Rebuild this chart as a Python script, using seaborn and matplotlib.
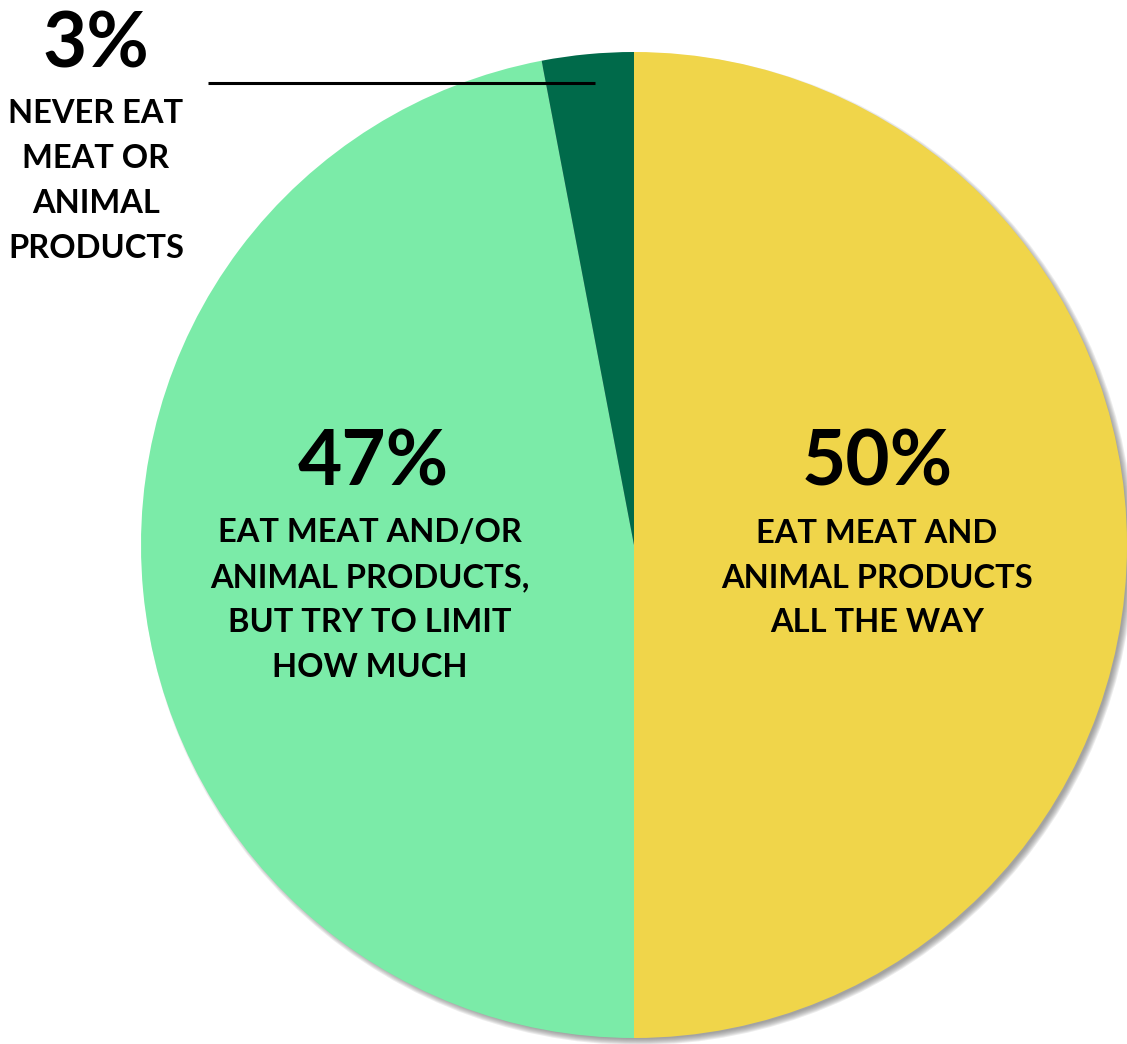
import matplotlib
matplotlib.use("Agg")
import matplotlib.pyplot as plt
from matplotlib.patches import Circle
import seaborn as sns

sns.set_theme(style="white")
plt.rcParams["font.family"] = ["Lato", "DejaVu Sans"]

# Survey shares, clockwise from 12 o'clock
categories = [
    "EAT MEAT AND\nANIMAL PRODUCTS\nALL THE WAY",
    "EAT MEAT AND/OR\nANIMAL PRODUCTS,\nBUT TRY TO LIMIT\nHOW MUCH",
    "NEVER EAT\nMEAT OR\nANIMAL\nPRODUCTS",
]
shares = [50, 47, 3]
pct_labels = ["50%", "47%", "3%"]
colors = ["#F0D54A", "#7BEBA8", "#006A4A"]

W, H = 1127, 1044
fig = plt.figure(figsize=(W / 100, H / 100), dpi=100)
ax = fig.add_axes([0, 0, 1, 1])

cx, cy, r = 634, H - 545, 493

# soft drop shadow below the pie, offset to the lower right
for i in range(7):
    ax.add_patch(Circle((cx + 4, cy - 4), r + 3 - i, color="#6f6f6f",
                        alpha=0.13, lw=0, zorder=0))

wedges, _ = ax.pie(shares, colors=colors, startangle=90, counterclock=False,
                   center=(cx, cy), radius=r, frame=True,
                   wedgeprops=dict(linewidth=0, antialiased=True))
for w in wedges:
    w.set_zorder(2)
ax.set_xlim(0, W)
ax.set_ylim(0, H)
ax.set_aspect("equal")
ax.axis("off")

big = dict(fontsize=55, fontweight="bold", color="black", ha="center", va="center", zorder=5)
small = dict(fontsize=23.5, fontweight="bold", color="black", ha="center", va="center",
             linespacing=1.66, zorder=5)

# yellow slice
ax.text(877, H - 464, pct_labels[0], **big)
ax.text(877, H - 578, categories[0], **small)
# light green slice
ax.text(373, H - 464, pct_labels[1], **big)
ax.text(370, H - 600, categories[1], **small)
# dark green slice, labelled outside with a leader line
ax.text(96, H - 45, pct_labels[2], **big)
ax.text(96, H - 181, categories[2], **small)
ax.plot([208, 595], [H - 83, H - 83], color="black", lw=2.2, zorder=6,
        solid_capstyle="butt")

fig.savefig("out.png", dpi=100)
